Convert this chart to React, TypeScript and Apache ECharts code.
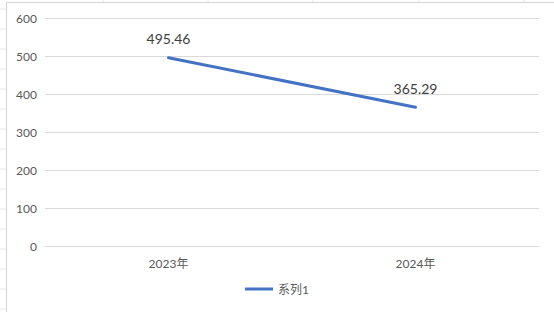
import React, { useEffect, useRef } from "react";
import * as echarts from "echarts";

const categories = ["2023年", "2024年"];
const values = [495.46, 365.29];
const seriesName = "系列1";
const yTicks = { min: 0, max: 600, interval: 100 };

export default function App() {
  const ref = useRef<HTMLDivElement>(null);
  useEffect(() => {
    if (!ref.current) return;
    const chart = echarts.init(ref.current, null, { renderer: "svg" });
    const cellLines: any[] = [];
    for (let y = 9; y < 312; y += 20) {
      cellLines.push({
        type: "line",
        shape: { x1: 0, y1: y, x2: 6, y2: y },
        style: { stroke: "#e6e6e6", lineWidth: 1 },
        silent: true,
      });
    }
    [103, 208, 313, 419, 524].forEach((x) => {
      cellLines.push({
        type: "line",
        shape: { x1: x, y1: 0, x2: x, y2: 2 },
        style: { stroke: "#e6e6e6", lineWidth: 1 },
        silent: true,
      });
    });
    chart.setOption({
      animation: false,
      backgroundColor: "#ffffff",
      textStyle: { fontFamily: "Lato, 'Noto Sans CJK SC', sans-serif" },
      grid: { left: 45, right: 15, top: 18, bottom: 66 },
      graphic: [
        ...cellLines,
        {
          type: "line",
          shape: { x1: 6.5, y1: 2.5, x2: 6.5, y2: 312 },
          style: { stroke: "#d4d4d4", lineWidth: 1 },
          silent: true,
        },
        {
          type: "line",
          shape: { x1: 6.5, y1: 2.5, x2: 554, y2: 2.5 },
          style: { stroke: "#d4d4d4", lineWidth: 1 },
          silent: true,
        },
      ],
      legend: {
        data: [seriesName],
        bottom: 12,
        left: "center",
        icon: "rect",
        itemWidth: 28,
        itemHeight: 3,
        itemGap: 5,
        textStyle: { color: "#595959", fontSize: 12, fontFamily: "Lato, 'Noto Sans CJK SC', sans-serif" },
      },
      xAxis: {
        type: "category",
        data: categories,
        boundaryGap: true,
        axisLine: { show: true, lineStyle: { color: "#d9d9d9", width: 1 } },
        axisTick: { show: false },
        axisLabel: {
          color: "#595959",
          fontSize: 12,
          margin: 11,
          fontFamily: "Lato, 'Noto Sans CJK SC', sans-serif",
        },
      },
      yAxis: {
        type: "value",
        min: yTicks.min,
        max: yTicks.max,
        interval: yTicks.interval,
        axisLine: { show: false },
        axisTick: { show: false },
        splitLine: { lineStyle: { color: "#d9d9d9", width: 1 } },
        axisLabel: { color: "#595959", fontSize: 12, margin: 8 },
      },
      series: [
        {
          name: seriesName,
          type: "line",
          data: values,
          symbol: "circle",
          symbolSize: 0,
          showSymbol: true,
          lineStyle: { color: "#4472C4", width: 3, cap: "round" },
          itemStyle: { color: "#4472C4" },
          label: {
            show: true,
            position: "top",
            distance: 12,
            color: "#404040",
            fontSize: 14,
            formatter: (p: any) => p.value.toFixed(2),
          },
        },
      ],
    });
    return () => chart.dispose();
  }, []);
  return (
    <div
      ref={ref}
      style={{ position: "fixed", left: 0, top: 0, width: 554, height: 312, background: "#fff" }}
    />
  );
}
